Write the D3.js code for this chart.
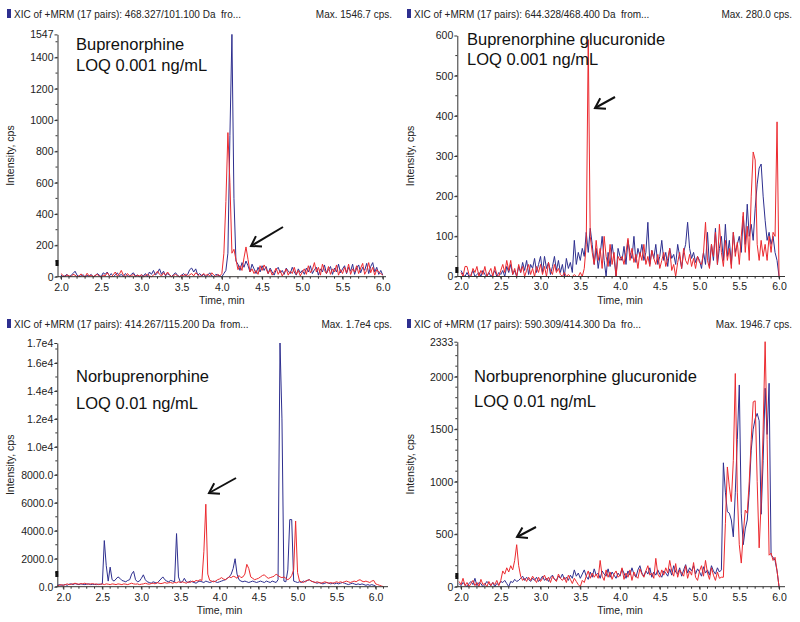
<!DOCTYPE html>
<html><head><meta charset="utf-8">
<script src="https://cdn.jsdelivr.net/npm/d3@7"></script>
<style>body{margin:0;background:#fff;} svg{display:block;font-family:"Liberation Sans",Arial,sans-serif;}</style>
</head><body>
<svg id="c" width="800" height="622"></svg>
<script>
// ---------------- DATA ----------------
const xTicks = [2.0, 2.5, 3.0, 3.5, 4.0, 4.5, 5.0, 5.5, 6.0];
const sampleStep = 0.025;

// Panel 1: Buprenorphine (starts 2.0 min)
const p1Start = 2.0;
const p1Red = [20,8,0,12,5,0,15,10,0,5,18,2,0,22,5,10,0,8,15,3,0,
 10,5,25,8,0,12,30,5,15,40,10,0,20,8,5,15,0,10,5,12,
 0,8,15,5,0,10,20,35,15,5,25,10,30,12,0,8,15,5,0,10,
 5,18,0,12,20,5,25,15,0,10,20,8,15,5,25,10,0,15,5,20,
 150,480,920,600,150,175,110,45,70,40,120,190,110,30,50,20,40,15,70,40,
 75,50,20,45,10,30,55,15,40,5,25,50,10,35,20,60,15,40,5,30,
 50,15,70,25,45,90,30,60,10,80,40,20,65,15,50,30,75,10,45,20,
 60,25,80,15,50,30,70,20,55,85,15,40,90,25,60,10,45,30,20,10];
const p1Blue = [10,0,5,15,0,8,20,35,10,0,5,12,0,8,3,15,0,5,20,10,0,
 25,15,30,5,20,0,10,25,5,15,0,20,8,0,15,25,5,10,0,12,
 5,20,0,30,15,40,10,25,50,15,35,5,20,10,0,15,25,8,0,10,
 20,5,15,45,55,30,50,10,20,5,15,0,10,25,5,0,15,10,5,0,
 20,40,150,900,1547,500,100,80,40,90,60,100,70,30,80,50,20,60,30,70,
 40,65,20,55,30,10,45,60,25,40,15,55,35,20,60,30,10,50,25,40,
 15,55,30,70,20,45,60,10,50,30,75,20,45,65,15,55,30,80,25,50,
 70,20,60,35,80,15,55,75,25,60,40,85,20,65,90,30,60,15,40,10];

// Panel 2: Buprenorphine glucuronide (starts 2.0 min)
const p2Start = 2.0;
const p2Red = [10,0,25,25,5,0,20,10,25,0,15,5,25,0,10,20,0,25,5,0,15,
 30,10,40,15,40,5,20,0,30,10,25,0,15,30,5,20,0,25,10,30,
 5,25,0,35,15,5,30,10,20,5,0,10,0,5,0,0,5,0,0,10,
 0,20,80,590,100,60,30,90,40,70,20,100,50,25,80,30,60,0,50,40,
 50,30,60,95,40,70,35,55,20,60,40,80,30,50,25,65,45,30,55,20,
 40,60,25,45,70,15,30,0,35,60,20,70,40,30,55,25,45,20,50,35,
 30,60,135,40,20,80,50,110,30,130,60,25,90,40,70,20,110,50,85,30,
 100,160,60,125,40,200,310,290,80,40,90,50,80,40,100,60,110,100,385,0];
const p2Blue = [15,5,0,10,0,5,15,0,5,10,0,15,5,0,10,0,5,15,0,10,5,
 15,0,25,10,30,5,15,0,25,10,35,15,40,5,30,20,45,10,30,50,
 10,50,20,35,5,25,50,15,40,10,30,0,45,20,35,10,90,30,60,40,
 70,50,110,60,120,80,30,70,20,55,100,40,0,60,25,80,45,0,70,50,
 40,75,30,90,60,45,100,35,70,50,80,40,60,135,30,65,45,80,30,50,
 90,40,60,25,70,45,55,30,80,50,20,60,80,135,70,45,60,35,50,40,
 20,60,30,110,25,80,40,120,30,70,100,40,130,50,90,30,110,60,80,100,
 60,150,80,180,100,130,90,170,230,270,280,200,140,90,110,80,100,60,40,0];

// Panel 3: Norbuprenorphine (starts 1.925 min)
const p3Start = 1.925;
const p3Red = [50,100,150,100,
 150,200,150,180,200,250,200,180,220,200,250,200,180,200,220,180,200,150,180,200,
 150,200,180,150,200,180,150,200,180,150,200,180,150,200,250,200,180,200,150,180,
 200,250,200,180,220,250,200,300,250,220,250,300,250,280,300,250,300,280,350,300,
 350,300,250,350,300,400,350,450,400,500,450,2500,5900,900,450,400,350,400,500,550,
 650,550,500,600,700,650,750,700,600,800,650,700,900,1600,1300,700,600,500,550,600,
 700,800,850,700,600,650,700,750,900,800,700,650,700,600,500,600,800,1200,4700,1000,
 400,350,300,400,450,500,400,350,300,350,300,250,300,350,300,250,300,250,300,350,
 300,350,300,350,400,350,300,350,400,350,450,500,400,350,400,350,300,400,450,200,
 150,100,50,0];
const p3Blue = [100,150,100,120,
 150,100,180,200,150,220,180,150,200,170,150,180,200,150,170,160,150,180,170,200,
 3300,1500,400,1400,500,400,550,700,600,450,400,350,450,500,900,1100,500,350,400,600,
 850,500,350,300,250,350,300,250,400,550,700,500,400,350,450,400,350,3800,700,300,
 350,600,350,300,400,350,300,250,350,400,350,300,400,350,300,350,400,350,300,350,
 400,450,500,600,700,900,1300,2000,900,500,400,350,400,350,300,350,400,350,300,350,
 400,350,300,400,350,300,400,350,300,500,17430,12000,400,350,1200,4800,4800,400,350,300,
 350,300,400,350,450,500,400,350,300,250,300,250,200,250,300,250,200,250,200,250,
 200,250,300,250,200,150,200,250,200,150,200,150,200,150,100,150,100,150,100,50];

// Panel 4: Norbuprenorphine glucuronide (starts 1.975 min)
const p4Start = 1.975;
const p4Red = [50,20,80,10,40,0,30,60,10,40,0,70,20,30,0,50,10,40,20,60,10,
 60,150,120,180,140,200,160,250,400,200,100,60,80,50,90,60,100,70,40,90,
 50,80,110,60,90,40,100,70,50,120,80,60,90,40,110,70,30,80,50,20,
 0,60,40,100,150,80,130,90,120,80,250,100,60,160,90,140,70,120,150,90,
 110,180,70,130,90,160,60,140,100,80,170,120,90,150,200,110,130,80,270,120,
 90,160,110,180,130,250,150,100,220,90,160,130,100,200,80,150,110,230,90,60,
 150,200,100,250,130,70,180,110,60,140,80,90,90,600,1140,950,810,1200,2030,900,
 400,225,500,730,700,1000,1400,1760,1770,1000,370,800,1500,2333,1400,300,320,250,280,150,0];
const p4Blue = [30,10,40,20,0,30,50,20,80,10,40,30,0,20,50,30,10,40,0,30,20,
 50,40,60,30,0,50,40,70,50,60,80,100,60,90,70,50,80,60,90,50,
 70,100,60,80,50,90,110,70,60,100,80,120,70,90,60,110,80,160,100,130,
 80,120,160,100,70,140,90,170,110,130,80,150,120,100,170,90,140,110,80,130,
 100,170,130,80,150,110,180,120,90,160,200,130,100,150,120,180,90,140,110,160,
 120,90,150,130,100,170,110,200,140,120,180,100,160,210,130,180,150,200,120,170,
 140,100,190,130,160,110,200,150,120,180,140,160,1180,900,714,700,635,475,900,1400,
 1921,700,400,550,635,900,1300,1500,1600,1650,1580,690,1200,1890,1450,1937,300,280,250,150,0];

const p1YTicks = [0,200,400,600,800,1000,1200,1400,1547];
const p1YLabels = ["0","200","400","600","800","1000","1200","1400","1547"];
const p2YTicks = [0,100,200,300,400,500,600];
const p2YLabels = ["0","100","200","300","400","500","600"];
const p3YTicks = [0,2000,4000,6000,8000,10000,12000,14000,16000,17430];
const p3YLabels = ["0.0","2000.0","4000.0","6000.0","8000.0","1.0e4","1.2e4","1.4e4","1.6e4","1.7e4"];
const p4YTicks = [0,500,1000,1500,2000,2333];
const p4YLabels = ["0","500","1000","1500","2000","2333"];

const headers = ["XIC of +MRM (17 pairs): 468.327/101.100 Da  fro...",
                 "XIC of +MRM (17 pairs): 644.328/468.400 Da  from...",
                 "XIC of +MRM (17 pairs): 414.267/115.200 Da  from...",
                 "XIC of +MRM (17 pairs): 590.309/414.300 Da  fro..."];
const maxTexts = ["Max. 1546.7 cps.", "Max. 280.0 cps.", "Max. 1.7e4 cps.", "Max. 1946.7 cps."];
const titles = [["Buprenorphine","LOQ 0.001 ng/mL"],
                ["Buprenorphine glucuronide","LOQ 0.001 ng/mL"],
                ["Norbuprenorphine","LOQ 0.01 ng/mL"],
                ["Norbuprenorphine glucuronide","LOQ 0.01 ng/mL"]];
const xLabel = "Time, min";
const yLabel = "Intensity, cps";

// ---------------- LAYOUT ----------------
const RED = "#ec2a2f", BLUE = "#2e2f8f", AX = "#333";
const panels = [
  {start:p1Start, red:p1Red, blue:p1Blue, yt:p1YTicks, yl:p1YLabels, ymax:1547, yminor:100,
   xd:[1.957,6.04], xr:[57.5,386], yr:[276.7,34.4], ox:0, oy:0,
   title:[76,50,71], arrow:[283,227,251,246], mark:263},
  {start:p2Start, red:p2Red, blue:p2Blue, yt:p2YTicks, yl:p2YLabels, ymax:600, yminor:50,
   xd:[1.953,6.075], xr:[457.3,785], yr:[276.5,35.5], ox:400, oy:0,
   title:[467,45,64.5], arrow:[615,97,595,108], mark:270},
  {start:p3Start, red:p3Red, blue:p3Blue, yt:p3YTicks, yl:p3YLabels, ymax:17430, yminor:1000,
   xd:[1.923,6.158], xr:[57.3,388], yr:[586.7,343], ox:0, oy:310,
   title:[76,382,409], arrow:[236,478,209,493], mark:574},
  {start:p4Start, red:p4Red, blue:p4Blue, yt:p4YTicks, yl:p4YLabels, ymax:2333, yminor:100,
   xd:[1.953,6.075], xr:[457.3,785], yr:[586.7,341.7], ox:400, oy:310,
   title:[474,382,407], arrow:[536,527,517,537], mark:576}
];

const svg = d3.select("#c");

panels.forEach((p, k) => {
  const g = svg.append("g");
  const x = d3.scaleLinear().domain(p.xd).range(p.xr);
  const y = d3.scaleLinear().domain([0, p.ymax]).range(p.yr);
  const x0 = p.xr[0], yb = p.yr[0];

  // header
  g.append("rect").attr("x", p.ox + 7).attr("y", p.oy + 9).attr("width", 4).attr("height", 9).attr("fill", "#2e2f8f");
  g.append("text").attr("x", p.ox + 14).attr("y", p.oy + 17.5).attr("font-size", 10).attr("fill", "#222")
    .style("white-space", "pre").text(headers[k]);
  g.append("text").attr("x", p.ox + 392).attr("y", p.oy + 17.5).attr("font-size", 10).attr("fill", "#222")
    .attr("text-anchor", "end").text(maxTexts[k]);

  // lines
  const line = d3.line().x(d => x(d[0])).y(d => y(d[1]));
  const toPts = arr => arr.map((v, i) => [p.start + i * sampleStep, v]);
  g.append("path").datum(toPts(p.blue)).attr("d", line).attr("fill", "none").attr("stroke", BLUE).attr("stroke-width", 1);
  g.append("path").datum(toPts(p.red)).attr("d", line).attr("fill", "none").attr("stroke", RED).attr("stroke-width", 1);

  // x axis
  const xa = d3.axisBottom(x).tickValues(xTicks).tickFormat(d3.format(".1f")).tickSize(3).tickSizeOuter(0);
  const xg = g.append("g").attr("transform", `translate(0,${yb})`).call(xa);
  const minorX = d3.range(20, 62).map(v => v / 10).filter(v => v >= p.xd[0] && v <= p.xd[1]);
  xg.selectAll(".mn").data(minorX).enter().append("line").attr("class","mn")
    .attr("x1", d => x(d)).attr("x2", d => x(d)).attr("y1", 0).attr("y2", 2).attr("stroke", AX);
  xg.select(".domain").attr("stroke", AX).attr("d", `M${p.xr[0]},0H${p.xr[1]}`);
  xg.selectAll(".tick line").attr("stroke", AX);
  xg.selectAll(".tick text").attr("font-size", 10.5).attr("fill", "#222").attr("font-family", "Liberation Sans, Arial").attr("dy", "0.75em");

  // y axis
  const ya = d3.axisLeft(y).tickValues(p.yt).tickFormat((d, i) => p.yl[i]).tickSize(3).tickSizeOuter(0);
  const yg = g.append("g").attr("transform", `translate(${x0},0)`).call(ya);
  const minorY = d3.range(0, p.ymax, p.yminor);
  yg.selectAll(".mn").data(minorY).enter().append("line").attr("class","mn")
    .attr("x1", 0).attr("x2", -2).attr("y1", d => y(d)).attr("y2", d => y(d)).attr("stroke", AX);
  yg.select(".domain").attr("stroke", AX);
  yg.selectAll(".tick line").attr("stroke", AX);
  yg.selectAll(".tick text").attr("font-size", 10.5).attr("fill", "#222").attr("font-family", "Liberation Sans, Arial").attr("x", -4);

  // small marker on y axis
  g.append("rect").attr("x", x0 - 2).attr("y", p.mark - 3).attr("width", 3).attr("height", 6).attr("fill", "#111");

  // axis labels
  g.append("text").attr("x", x(4.0)).attr("y", yb + 27).attr("text-anchor", "middle").attr("font-size", 10.5).attr("fill", "#222").text(xLabel);
  const ymid = (p.yr[0] + p.yr[1]) / 2;
  g.append("text").attr("transform", `translate(${p.ox + 14},${ymid}) rotate(-90)`).attr("text-anchor", "middle")
    .attr("font-size", 10.5).attr("fill", "#222").text(yLabel);

  // titles
  g.append("text").attr("x", p.title[0]).attr("y", p.title[1]).attr("font-size", 16.5).attr("fill", "#111").text(titles[k][0]);
  g.append("text").attr("x", p.title[0]).attr("y", p.title[2]).attr("font-size", 16.5).attr("fill", "#111").text(titles[k][1]);

  // arrow
  const [ax1, ay1, ax2, ay2] = p.arrow;
  const ang = Math.atan2(ay2 - ay1, ax2 - ax1);
  const L = 11, a = Math.PI / 5.5;
  g.append("line").attr("x1", ax1).attr("y1", ay1).attr("x2", ax2).attr("y2", ay2).attr("stroke", "#111").attr("stroke-width", 2);
  g.append("path").attr("d", `M${ax2 - L*Math.cos(ang - a)},${ay2 - L*Math.sin(ang - a)}L${ax2},${ay2}L${ax2 - L*Math.cos(ang + a)},${ay2 - L*Math.sin(ang + a)}`)
    .attr("fill", "none").attr("stroke", "#111").attr("stroke-width", 2);
});
</script>
</body></html>
